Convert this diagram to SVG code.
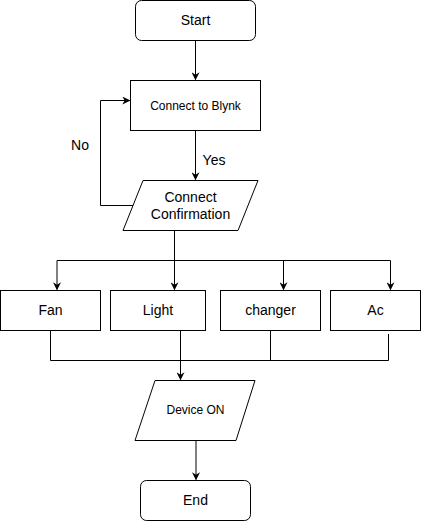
<svg xmlns="http://www.w3.org/2000/svg" width="422" height="522" viewBox="0 0 422 522">
<style>
.s{fill:#fff;stroke:#000;stroke-width:1}
.t{font-family:"Liberation Sans",Arial,sans-serif;fill:#000;text-anchor:middle}
.e{fill:none;stroke:#000;stroke-width:1}
</style>
<defs>
<marker id="a" viewBox="0 0 10 10" refX="9" refY="5" markerWidth="8" markerHeight="8" markerUnits="userSpaceOnUse" orient="auto">
<path d="M0,0 L10,5 L0,10 L3,5 Z" fill="#000"/>
</marker>
</defs>
<rect width="422" height="522" fill="#fff"/>
<g id="connectors">
<path class="e" d="M195.5,40.5 V79.5" marker-end="url(#a)"/>
<path class="e" d="M195.5,130.5 V179.5" marker-end="url(#a)"/>
<path class="e" d="M133,205.5 H100.5 V100.5 H129.5" marker-end="url(#a)"/>
<path class="e" d="M174.5,230.5 V289.5" marker-end="url(#a)"/>
<path class="e" d="M57,260.5 H390.5"/>
<path class="e" d="M57,260.5 V289.5" marker-end="url(#a)"/>
<path class="e" d="M283.5,260.5 V289.5" marker-end="url(#a)"/>
<path class="e" d="M390.5,260.5 V289.5" marker-end="url(#a)"/>
<path class="e" d="M50.5,330.5 V360.5 H388.5 V334"/>
<path class="e" d="M270.5,330.5 V360.5"/>
<path class="e" d="M180.5,330.5 V379.5" marker-end="url(#a)"/>
<path class="e" d="M196,440.5 V479.5" marker-end="url(#a)"/>
<text class="t" x="214" y="165" font-size="14">Yes</text>
<text class="t" x="80" y="150" font-size="14">No</text>
</g>
<g id="start">
<rect class="s" x="135.5" y="0.5" width="120" height="40" rx="6"/>
<text class="t" x="195.5" y="25" font-size="14">Start</text>
</g>
<g id="blynk">
<rect class="s" x="130.5" y="80.5" width="130" height="50"/>
<text class="t" x="195.5" y="109.5" font-size="12">Connect to Blynk</text>
</g>
<g id="confirm">
<polygon class="s" points="143,180.5 258,180.5 238,230.5 123,230.5"/>
<text class="t" x="190.5" y="202" font-size="14">Connect</text>
<text class="t" x="190.5" y="219" font-size="14">Confirmation</text>
</g>
<g id="fan">
<rect class="s" x="0.5" y="290.5" width="100" height="40"/>
<text class="t" x="50.5" y="315" font-size="14">Fan</text>
</g>
<g id="light">
<rect class="s" x="110.5" y="290.5" width="95" height="40"/>
<text class="t" x="158" y="315" font-size="14">Light</text>
</g>
<g id="changer">
<rect class="s" x="220.5" y="290.5" width="100" height="40"/>
<text class="t" x="270.5" y="315" font-size="14">changer</text>
</g>
<g id="ac">
<rect class="s" x="330.5" y="290.5" width="90" height="40"/>
<text class="t" x="375.5" y="315" font-size="14">Ac</text>
</g>
<g id="device">
<polygon class="s" points="155,380.5 255,380.5 236,440.5 135,440.5"/>
<text class="t" x="195.5" y="414" font-size="12">Device ON</text>
</g>
<g id="end">
<rect class="s" x="140.5" y="480.5" width="110" height="40" rx="6"/>
<text class="t" x="195.5" y="505" font-size="14">End</text>
</g>
</svg>
